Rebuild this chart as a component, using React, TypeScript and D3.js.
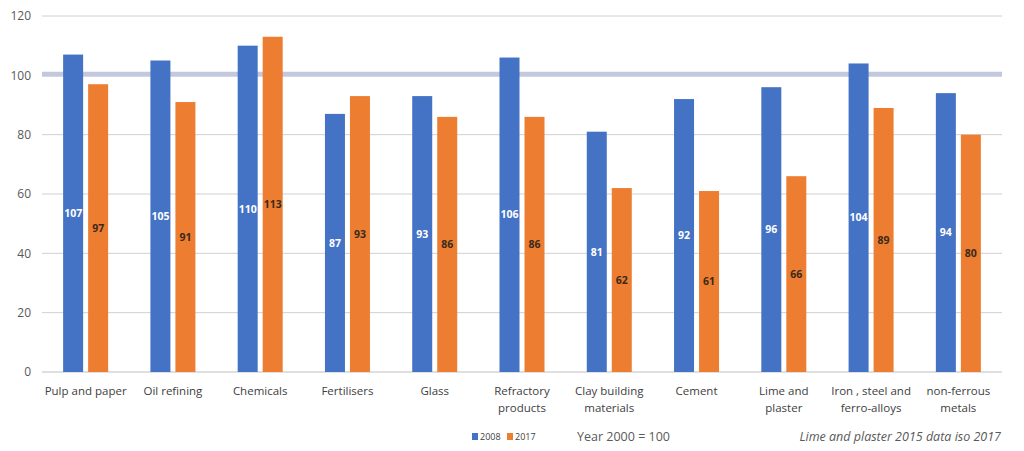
import React from "react";
import * as d3 from "d3";

const categories: string[][] = [
  ["Pulp and paper"],
  ["Oil refining"],
  ["Chemicals"],
  ["Fertilisers"],
  ["Glass"],
  ["Refractory", "products"],
  ["Clay building", "materials"],
  ["Cement"],
  ["Lime and", "plaster"],
  ["Iron , steel and", "ferro-alloys"],
  ["non-ferrous", "metals"],
];
const values2008 = [107, 105, 110, 87, 93, 106, 81, 92, 96, 104, 94];
const values2017 = [97, 91, 113, 93, 86, 86, 62, 61, 66, 89, 80];
const yTicks = [0, 20, 40, 60, 80, 100, 120];
const seriesNames = ["2008", "2017"];
const colors = ["#4472c4", "#ed7d31"];

export default function App() {
  const W = 1024, H = 451;
  const left = 42, right = 1002, top = 16, bottom = 372;
  const font = "'Open Sans', 'Noto Sans', sans-serif";
  const x = d3.scaleBand<number>().domain(d3.range(categories.length)).range([left, right]).paddingInner(0).paddingOuter(0);
  const y = d3.scaleLinear().domain([0, 120]).range([bottom, top]);
  const bw = 20, gap = 5;
  const series = [values2008, values2017];
  return (
    <svg width={W} height={H} style={{ position: "absolute", left: 0, top: 0, background: "#fff" }} fontFamily={font}>
      {yTicks.map((t) => (
        <g key={t}>
          <line x1={left} x2={right} y1={t === 100 ? y(t) - 1 : y(t)} y2={t === 100 ? y(t) - 1 : y(t)} stroke={t === 100 ? "#c3c8df" : t === 0 ? "#bfbfbf" : "#d0d0d0"} strokeWidth={t === 100 ? 5 : 1} />
          <text x={31} y={y(t)} dy="0.35em" textAnchor="end" fontSize={12} fill="#595959">{t}</text>
        </g>
      ))}
      {categories.map((c, i) => {
        const cx = (x(i) as number) + x.bandwidth() / 2;
        return (
          <g key={i}>
            {series.map((s, k) => {
              const bx = k === 0 ? cx - gap / 2 - bw : cx + gap / 2;
              const v = s[i];
              return (
                <g key={k}>
                  <rect x={bx} y={y(v)} width={bw} height={y(0) - y(v)} fill={colors[k]} />
                  <text x={bx + bw / 2} y={y(v / 2)} dy="0.35em" textAnchor="middle" fontSize={10.5} fontWeight="bold" fill={k === 0 ? "#ffffff" : "#3a2a1a"}>{v}</text>
                </g>
              );
            })}
            {c.map((line, j) => (
              <text key={j} x={cx} y={391 + j * 17} dy="0.35em" textAnchor="middle" fontSize={11.5} fill="#404040">{line}</text>
            ))}
          </g>
        );
      })}
      {seriesNames.map((n, k) => (
        <g key={n}>
          <rect x={472 + k * 35} y={433} width={6} height={7} fill={colors[k]} />
          <text x={480 + k * 35} y={437} dy="0.35em" fontSize={9} fill="#404040">{n}</text>
        </g>
      ))}
      <text x={577} y={437} dy="0.35em" fontSize={12.5} fill="#595959">Year 2000 = 100</text>
      <text x={1001} y={437} dy="0.35em" textAnchor="end" fontSize={12.5} fontStyle="italic" fill="#595959">Lime and plaster 2015 data iso 2017</text>
    </svg>
  );
}
